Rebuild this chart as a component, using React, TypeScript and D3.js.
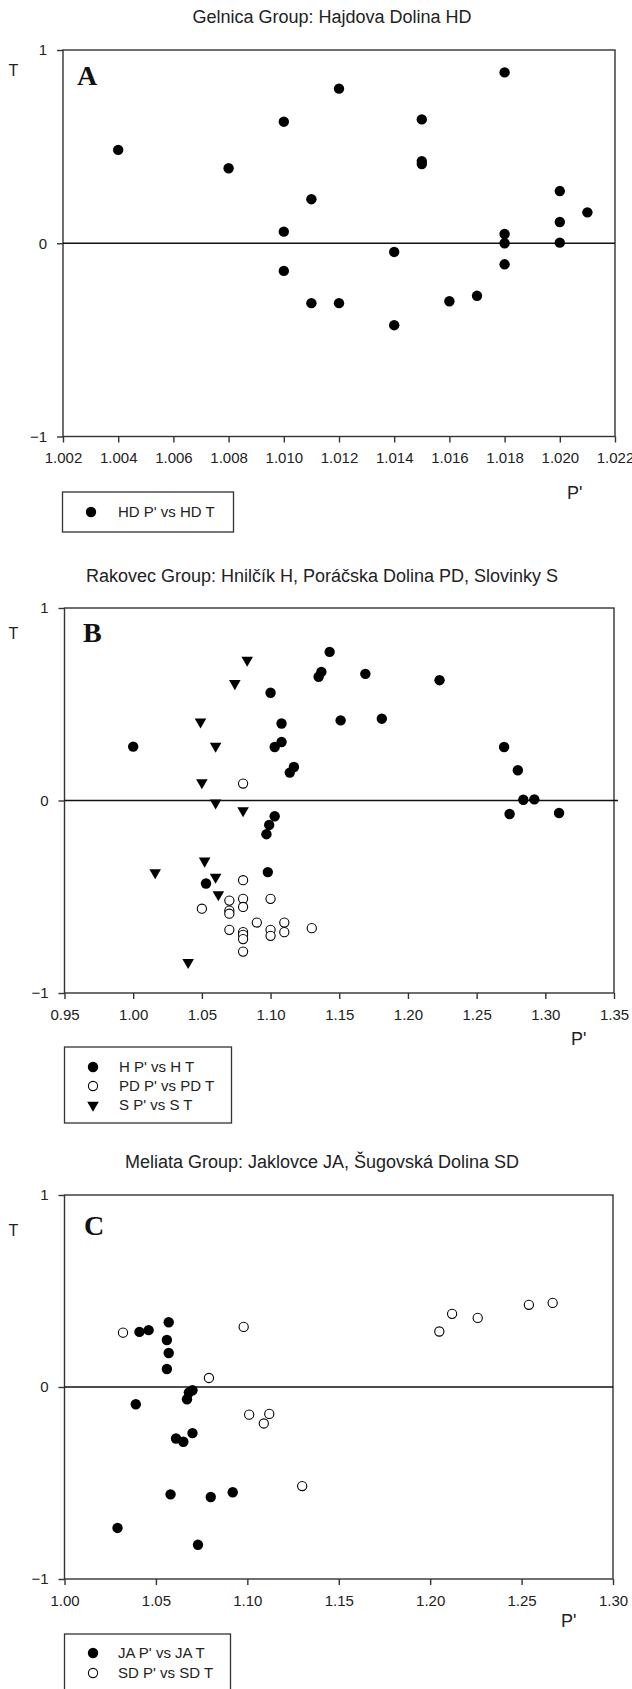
import React, { useEffect, useRef } from "react";
import * as d3 from "d3";

// Gelnica Group: Hajdova Dolina HD
const hdP = [1.004, 1.008, 1.010, 1.011, 1.012, 1.015, 1.015, 1.015, 1.018, 1.020, 1.021, 1.020, 1.010, 1.018, 1.018, 1.020, 1.010, 1.014, 1.018, 1.011, 1.012, 1.016, 1.017, 1.014];
const hdT = [0.483, 0.388, 0.629, 0.228, 0.80, 0.641, 0.425, 0.41, 0.884, 0.27, 0.16, 0.11, 0.06, 0.048, 0.0, 0.003, -0.143, -0.045, -0.109, -0.31, -0.31, -0.30, -0.272, -0.424];

// Rakovec Group
const hP = [1.000, 1.100, 1.108, 1.103, 1.108, 1.114, 1.117, 1.135, 1.137, 1.143, 1.151, 1.169, 1.181, 1.223, 1.270, 1.280, 1.284, 1.292, 1.274, 1.310, 1.103, 1.099, 1.097, 1.098, 1.053];
const hT = [0.28, 0.56, 0.40, 0.278, 0.304, 0.145, 0.174, 0.643, 0.668, 0.772, 0.416, 0.658, 0.425, 0.625, 0.278, 0.157, 0.004, 0.006, -0.07, -0.065, -0.082, -0.127, -0.175, -0.372, -0.431];
const pdP = [1.080, 1.080, 1.050, 1.070, 1.070, 1.070, 1.080, 1.080, 1.100, 1.090, 1.070, 1.080, 1.080, 1.080, 1.080, 1.100, 1.100, 1.110, 1.110, 1.130];
const pdT = [0.088, -0.414, -0.562, -0.52, -0.572, -0.588, -0.511, -0.553, -0.511, -0.634, -0.672, -0.684, -0.698, -0.72, -0.785, -0.672, -0.703, -0.634, -0.684, -0.663];
const sP = [1.083, 1.074, 1.049, 1.060, 1.050, 1.060, 1.080, 1.052, 1.016, 1.060, 1.062, 1.040];
const sT = [0.729, 0.608, 0.409, 0.283, 0.093, -0.012, -0.052, -0.314, -0.375, -0.398, -0.489, -0.841];

// Meliata Group
const jaP = [1.041, 1.046, 1.057, 1.056, 1.057, 1.056, 1.070, 1.068, 1.067, 1.039, 1.061, 1.065, 1.070, 1.058, 1.080, 1.092, 1.029, 1.073];
const jaT = [0.287, 0.296, 0.337, 0.245, 0.177, 0.094, -0.017, -0.029, -0.064, -0.09, -0.268, -0.285, -0.24, -0.559, -0.573, -0.548, -0.734, -0.822];
const sdP = [1.032, 1.098, 1.079, 1.205, 1.212, 1.226, 1.254, 1.267, 1.101, 1.112, 1.109, 1.130];
const sdT = [0.283, 0.313, 0.047, 0.289, 0.381, 0.36, 0.428, 0.438, -0.144, -0.14, -0.19, -0.516];

const xTicksA = [1.002, 1.004, 1.006, 1.008, 1.010, 1.012, 1.014, 1.016, 1.018, 1.020, 1.022];
const xTicksB = [0.95, 1.0, 1.05, 1.1, 1.15, 1.2, 1.25, 1.3, 1.35];
const xTicksC = [1.0, 1.05, 1.1, 1.15, 1.2, 1.25, 1.3];
const yTicks = [-1, 0, 1];

const FONT = "'Liberation Sans', Arial, sans-serif";

const panels = [
  {
    title: "Gelnica Group: Hajdova Dolina HD", titleX: 332, titleY: 23,
    letter: "A", letterX: 77, letterY: 85,
    left: 63, right: 615, top: 50, bottom: 436.5,
    xTicks: xTicksA, fmt: ".3f",
    tY: 76, pX: 567, pY: 499,
    legend: { x: 62.5, y: 492, w: 171, h: 40, rowY: [512], markX: 91, textX: 118 },
    series: [{ label: "HD P' vs HD T", kind: "filled", xs: hdP, ys: hdT }],
  },
  {
    title: "Rakovec Group: Hnilčík H, Poráčska Dolina PD, Slovinky S", titleX: 322, titleY: 582,
    letter: "B", letterX: 83, letterY: 642,
    left: 64.5, right: 614, top: 608, bottom: 993,
    xTicks: xTicksB, fmt: ".2f", zeroTick: true,
    tY: 639, pX: 571, pY: 1045,
    legend: { x: 64.5, y: 1047, w: 167, h: 76, rowY: [1067, 1086, 1105], markX: 93, textX: 119 },
    series: [
      { label: "H P' vs H T", kind: "filled", xs: hP, ys: hT },
      { label: "PD P' vs PD T", kind: "open", xs: pdP, ys: pdT },
      { label: "S P' vs S T", kind: "tri", xs: sP, ys: sT },
    ],
  },
  {
    title: "Meliata Group: Jaklovce JA, Šugovská Dolina SD", titleX: 322, titleY: 1168,
    letter: "C", letterX: 84, letterY: 1235,
    left: 64.5, right: 613, top: 1195, bottom: 1579,
    xTicks: xTicksC, fmt: ".2f",
    tY: 1236, pX: 561, pY: 1627,
    legend: { x: 64.5, y: 1634, w: 166, h: 70, rowY: [1653, 1673], markX: 93, textX: 118 },
    series: [
      { label: "JA P' vs JA T", kind: "filled", xs: jaP, ys: jaT },
      { label: "SD P' vs SD T", kind: "open", xs: sdP, ys: sdT },
    ],
  },
];

const triangle = d3.symbol().type(d3.symbolTriangle).size(58)();

function drawMark(g, kind, cx, cy) {
  if (kind === "tri") {
    g.append("path")
      .attr("d", triangle)
      .attr("transform", `translate(${cx},${cy}) rotate(180)`)
      .attr("fill", "#000");
  } else if (kind === "open") {
    g.append("circle")
      .attr("cx", cx).attr("cy", cy).attr("r", 4.6)
      .attr("fill", "#fff").attr("stroke", "#000").attr("stroke-width", 1.1);
  } else {
    g.append("circle")
      .attr("cx", cx).attr("cy", cy).attr("r", 5.2)
      .attr("fill", "#000");
  }
}

function drawPanel(svg, p) {
  const g = svg.append("g");
  const x = d3.scaleLinear().domain([p.xTicks[0], p.xTicks[p.xTicks.length - 1]]).range([p.left, p.right]);
  const y = d3.scaleLinear().domain([-1, 1]).range([p.bottom, p.top]);

  g.append("text")
    .attr("x", p.titleX).attr("y", p.titleY)
    .attr("text-anchor", "middle")
    .attr("font-family", FONT).attr("font-size", 18).attr("fill", "#222")
    .text(p.title);

  // axes (ticks + labels)
  const xa = g.append("g")
    .attr("transform", `translate(0,${p.bottom})`)
    .call(d3.axisBottom(x).tickValues(p.xTicks).tickFormat(d3.format(p.fmt)).tickSize(6).tickPadding(10).tickSizeOuter(0));
  const ya = g.append("g")
    .attr("transform", `translate(${p.left},0)`)
    .call(d3.axisLeft(y).tickValues(yTicks).tickFormat(d3.format("d")).tickSize(6).tickPadding(10).tickSizeOuter(0));
  [xa, ya].forEach(a => {
    a.attr("font-family", FONT).attr("font-size", 15).attr("color", "#222");
    a.select(".domain").remove();
    a.selectAll("line").attr("stroke", "#333").attr("stroke-width", 1.4);
  });

  // frame
  g.append("rect")
    .attr("x", p.left).attr("y", p.top)
    .attr("width", p.right - p.left).attr("height", p.bottom - p.top)
    .attr("fill", "none").attr("stroke", "#333").attr("stroke-width", 1.4);

  // zero reference line
  g.append("line")
    .attr("x1", p.left).attr("x2", p.zeroTick ? p.right + 4 : p.right)
    .attr("y1", y(0)).attr("y2", y(0))
    .attr("stroke", "#111").attr("stroke-width", 1.3);

  g.append("text")
    .attr("x", p.letterX).attr("y", p.letterY)
    .attr("font-family", "'Liberation Serif', 'Times New Roman', serif")
    .attr("font-weight", "bold").attr("font-size", 28).attr("fill", "#111")
    .text(p.letter);

  g.append("text")
    .attr("x", 13.5).attr("y", p.tY).attr("text-anchor", "middle")
    .attr("font-family", FONT).attr("font-size", 16).attr("fill", "#222")
    .text("T");
  g.append("text")
    .attr("x", p.pX).attr("y", p.pY)
    .attr("font-family", FONT).attr("font-size", 18).attr("fill", "#222")
    .text("P'");

  p.series.forEach(s => {
    const mg = g.append("g");
    s.xs.forEach((v, i) => drawMark(mg, s.kind, x(v), y(s.ys[i])));
  });

  // legend
  const L = p.legend;
  g.append("rect")
    .attr("x", L.x).attr("y", L.y).attr("width", L.w).attr("height", L.h)
    .attr("fill", "#fff").attr("stroke", "#333").attr("stroke-width", 1.3);
  p.series.forEach((s, i) => {
    drawMark(g, s.kind, L.markX, L.rowY[i]);
    g.append("text")
      .attr("x", L.textX).attr("y", L.rowY[i]).attr("dy", "0.36em")
      .attr("font-family", FONT).attr("font-size", 15).attr("fill", "#222")
      .text(s.label);
  });
}

export default function App() {
  const ref = useRef(null);

  useEffect(() => {
    const svg = d3.select(ref.current);
    svg.selectAll("*").remove();
    panels.forEach(p => drawPanel(svg, p));
  }, []);

  return (
    <svg
      ref={ref}
      width={632}
      height={1689}
      style={{ position: "absolute", left: 0, top: 0, background: "#fff" }}
    />
  );
}
